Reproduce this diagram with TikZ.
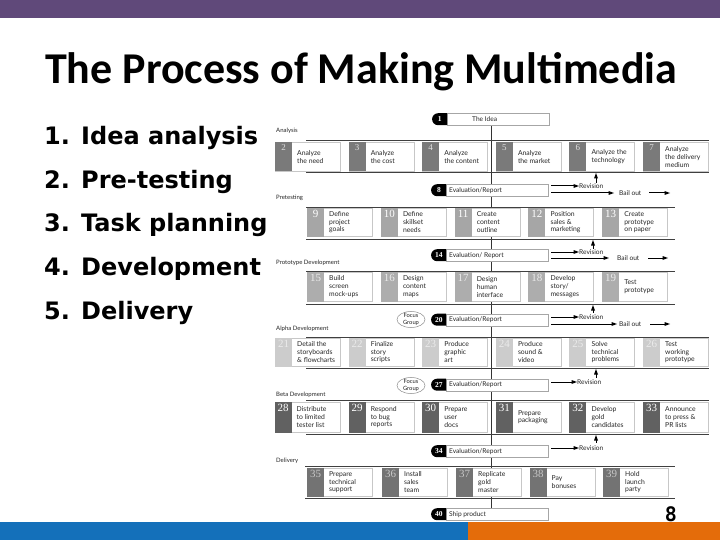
\documentclass[tikz,border=0pt]{standalone}
\usepackage{fontspec}
\setmainfont{Lato}
\newfontfamily\titlefont{Carlito}
\newfontfamily\listfont{DejaVu Sans}
\newfontfamily\numfont{Liberation Serif}
\newfontfamily\pgfont{DejaVu Sans Mono}
\usetikzlibrary{shapes.misc,shapes.geometric}

\definecolor{topbar}{RGB}{96,73,122}
\definecolor{blubar}{RGB}{20,112,186}
\definecolor{orgbar}{RGB}{228,108,10}
\colorlet{cellc}{black!50}
\colorlet{numc}{white}
\newcommand\numsize{11}

\tikzset{
  boxst/.style={draw=black!22, fill=white, line width=0.5pt, inner sep=0pt, minimum width=65pt},
  txtst/.style={font=\fontsize{6.8}{7.8}\selectfont, align=left, inner sep=0pt, text=black!85},
  numst/.style={font=\numfont\fontsize{\numsize}{\numsize}\selectfont, inner sep=0pt},
  rule/.style={draw=black!75, line width=0.8pt},
  cline/.style={draw=black!80, line width=1pt},
  evalst/.style={draw=black!35, fill=white, line width=0.5pt, minimum height=12pt, minimum width=102pt, anchor=north west, inner sep=0pt},
  evtxt/.style={font=\fontsize{6.6}{7}\selectfont, inner sep=0pt, text=black!85},
  tagst/.style={rounded rectangle, rounded rectangle right arc=none, fill=black, minimum height=12pt, minimum width=15pt, inner sep=0pt, text=white, font=\numfont\bfseries\fontsize{7.5}{7.5}\selectfont},
  lbl/.style={font=\fontsize{6.6}{7}\selectfont, inner sep=0pt, text=black!85, anchor=west},
  stagest/.style={font=\fontsize{6}{7}\selectfont, inner sep=0pt, anchor=west, text=black!85},
  aline/.style={draw=black, line width=1pt, line cap=rect},
  fgst/.style={ellipse, draw=black!45, line width=0.5pt, fill=white, minimum width=28pt, minimum height=16pt, inner sep=0pt, align=center, font=\fontsize{5.8}{6.2}\selectfont, text=black!85},
  listst/.style={anchor=base west, inner sep=0pt, font=\listfont\bfseries\fontsize{24}{24}\selectfont}
}

% #1 name, #2 x, #3 y, #4 height, #5 number, #6 text
\newcommand\mmbox[6]{%
  \node[boxst, minimum height=#4pt, anchor=north west] (#1) at (#2,#3) {};
  \fill[cellc] (#1.north west) rectangle ([xshift=17pt]#1.south west);
  \node[numst, text=numc, anchor=north] at ([xshift=8.5pt,yshift=-2pt]#1.north west) {#5};
  \node[txtst, anchor=west] at ([xshift=22pt]#1.west) {#6};
}
% #1 name, #2 x of tag, #3 y top, #4 number, #5 text, #6 text offset
\newcommand\evalbox[6]{%
  \node[evalst] (#1) at ({#2+15},#3) {};
  \node[tagst, anchor=north east] (#1t) at ([xshift=0.3pt]#1.north west) {#4};
  \node[evtxt, anchor=west] (#1x) at ([xshift=#6pt]#1.west) {#5};
}
% horizontal arrow to the right: #1 start, #2 end (tip)
\newcommand\harr[2]{%
  \draw[aline] (#1) -- ([xshift=-4pt]#2);
  \fill[black] (#2) -- ([xshift=-5.5pt,yshift=2pt]#2) -- ([xshift=-5.5pt,yshift=-2pt]#2) -- cycle;
}
% vertical arrow upwards: #1 start (below), #2 end (tip)
\newcommand\varr[2]{%
  \draw[aline] (#1) -- ([yshift=-4pt]#2);
  \fill[black] (#2) -- ([xshift=2pt,yshift=-5.5pt]#2) -- ([xshift=-2pt,yshift=-5.5pt]#2) -- cycle;
}

\begin{document}
\begin{tikzpicture}[x=1pt,y=-1pt]
\useasboundingbox (0,0) rectangle (720,540);
\fill[white] (0,0) rectangle (720,540);

% bars
\fill[topbar] (0,0) rectangle (720,18);
\fill[blubar] (0,522) rectangle (468,540);
\fill[orgbar] (468,522) rectangle (720,540);

% title
\node[anchor=base west, inner sep=0pt, font=\titlefont\bfseries\fontsize{44}{44}\selectfont] (title) at (45,84) {The Process of Making Multimedia};

% list
\node[listst] (l1) at (44,145) {1. Idea analysis};
\node[listst] (l2) at (44,189) {2. Pre-testing};
\node[listst] (l3) at (44,232) {3. Task planning};
\node[listst] (l4) at (44,275) {4. Development};
\node[listst] (l5) at (44,319) {5. Delivery};

% page number
\node[anchor=base, inner sep=0pt, font=\pgfont\bfseries\fontsize{20}{20}\selectfont] (pg) at (671,521) {8};

% ---------- diagram ----------
\coordinate (ctop) at (491,125);
\coordinate (cbot) at (491,508);
\draw[cline] (ctop) -- (cbot);

% stage labels
\node[stagest] (s1) at (276,131) {Analysis};
\node[stagest] (s2) at (276,198) {Pretesting};
\node[stagest] (s3) at (276,263) {Prototype Development};
\node[stagest] (s4) at (276,329) {Alpha Development};
\node[stagest] (s5) at (276,395) {Beta Development};
\node[stagest] (s6) at (276,461) {Delivery};

% rules
\draw[rule] (306,140) -- (709,140);
\draw[rule] (306,172) -- (709,172);
\draw[rule] (306,207) -- (675,207);
\draw[rule] (306,239) -- (675,239);
\draw[rule] (306,271) -- (675,271);
\draw[rule] (306,304) -- (675,304);
\draw[rule] (306,337) -- (709,337);
\draw[rule] (306,368) -- (709,368);
\draw[rule] (306,400) -- (709,400);
\draw[rule] (306,434) -- (709,434);
\draw[rule] (305,466) -- (675,466);
\draw[rule] (305,498) -- (675,498);

% eval boxes
\evalbox{e1}{432}{113}{1}{The Idea}{25}
\evalbox{e8}{431}{184}{8}{Evaluation/Report}{3}
\evalbox{e14}{431}{249}{14}{Evaluation/ Report}{3}
\evalbox{e20}{431}{313.5}{20}{Evaluation/Report}{3}
\evalbox{e27}{431}{378.5}{27}{Evaluation/Report}{3}
\evalbox{e34}{431}{445}{34}{Evaluation/Report}{3}
\evalbox{e40}{431}{508}{40}{Ship product}{3}

% row 1
\colorlet{cellc}{black!52}\colorlet{numc}{white!88!black}\renewcommand\numsize{9}
\mmbox{b2}{275}{142}{29}{2}{Analyze\\the need}
\mmbox{b3}{348.6}{142}{29}{3}{Analyze\\the cost}
\mmbox{b4}{422.2}{142}{29}{4}{Analyze\\the content}
\mmbox{b5}{495.8}{142}{29}{5}{Analyze\\the market}
\mmbox{b6}{569.4}{142}{29}{6}{Analyze the\\technology}
\mmbox{b7}{643}{142}{29}{7}{Analyze\\the delivery\\medium}

% row 2
\colorlet{cellc}{black!35}\colorlet{numc}{white}\renewcommand\numsize{11}
\mmbox{b9}{307}{208}{28}{9}{Define\\project\\goals}
\mmbox{b10}{380.8}{208}{28}{10}{Define\\skillset\\needs}
\mmbox{b11}{454.6}{208}{28}{11}{Create\\content\\outline}
\mmbox{b12}{528.4}{208}{28}{12}{Position\\sales \&\\marketing}
\mmbox{b13}{602.2}{208}{28}{13}{Create\\prototype\\on paper}

% row 3
\colorlet{cellc}{black!32}\colorlet{numc}{white!92!black}
\mmbox{b15}{307}{272}{29}{15}{Build\\screen\\mock-ups}
\mmbox{b16}{380.8}{272}{29}{16}{Design\\content\\maps}
\mmbox{b17}{454.6}{272}{29}{17}{Design\\human\\interface}
\mmbox{b18}{528.4}{272}{29}{18}{Develop\\story/\\messages}
\mmbox{b19}{602.2}{272}{29}{19}{Test\\prototype}

% row 4
\colorlet{cellc}{black!20}\colorlet{numc}{black!8}
\mmbox{b21}{275}{338}{28}{21}{Detail the\\storyboards\\\& flowcharts}
\mmbox{b22}{348.6}{338}{28}{22}{Finalize\\story\\scripts}
\mmbox{b23}{422.2}{338}{28}{23}{Produce\\graphic\\art}
\mmbox{b24}{495.8}{338}{28}{24}{Produce\\sound \&\\video}
\mmbox{b25}{569.4}{338}{28}{25}{Solve\\technical\\problems}
\mmbox{b26}{643}{338}{28}{26}{Test\\working\\prototype}

% row 5
\colorlet{cellc}{black!62}\colorlet{numc}{white}
\mmbox{b28}{274.5}{402}{30}{28}{Distribute\\to limited\\tester list}
\mmbox{b29}{348.6}{402}{30}{29}{Respond\\to bug\\reports}
\mmbox{b30}{422.2}{402}{30}{30}{Prepare\\user\\docs}
\mmbox{b31}{495.8}{402}{30}{31}{Prepare\\packaging}
\mmbox{b32}{569.4}{402}{30}{32}{Develop\\gold\\candidates}
\mmbox{b33}{643}{402}{30}{33}{Announce\\to press \&\\PR lists}

% row 6
\colorlet{cellc}{black!55}\colorlet{numc}{black!22}
\mmbox{b35}{307}{468}{28}{35}{Prepare\\technical\\support}
\mmbox{b36}{382}{468}{28}{36}{Install\\sales\\team}
\mmbox{b37}{456}{468}{28}{37}{Replicate\\gold\\master}
\mmbox{b38}{529.5}{468}{28}{38}{Pay\\bonuses}
\mmbox{b39}{603}{468}{28}{39}{Hold\\launch\\party}

% focus groups
\node[fgst] (fg20) at (411,319.5) {Focus\\Group};
\node[fgst] (fg27) at (411,385.5) {Focus\\Group};

% revision / bail out labels
\node[lbl] (r8) at (579,186) {Revision};
\node[lbl] (bo8) at (619,193) {Bail out};
\node[lbl] (r14) at (579,252) {Revision};
\node[lbl] (bo14) at (617,258) {Bail out};
\node[lbl] (r20) at (579,317) {Revision};
\node[lbl] (bo20) at (619,324) {Bail out};
\node[lbl] (r27) at (577,382) {Revision};
\node[lbl] (r34) at (579,448) {Revision};

% end points
\coordinate (h8a) at (551,186);   \coordinate (h8b) at (551,193);
\coordinate (h14a) at (551,252);  \coordinate (h14b) at (551,258);
\coordinate (h20a) at (551,317);  \coordinate (h20b) at (551,324);
\coordinate (h27a) at (551,382);
\coordinate (h34a) at (551,448);
\coordinate (g8) at (614,193);  \coordinate (g14) at (609,258);  \coordinate (g20) at (617,324);
\coordinate (s8) at (649,193);  \coordinate (s14) at (648,258);  \coordinate (s20) at (650,324);
\coordinate (t8) at (670,193);  \coordinate (t14) at (668,258);  \coordinate (t20) at (670,324);
\coordinate (v8a) at (596,183);   \coordinate (v8b) at (596,173);
\coordinate (v14a) at (593,248);  \coordinate (v14b) at (593,240);
\coordinate (v20a) at (593,312);  \coordinate (v20b) at (593,305);
\coordinate (v27a) at (596,377);  \coordinate (v27b) at (596,369);
\coordinate (v34a) at (596,442);  \coordinate (v34b) at (596,435);

% arrows
\harr{h8a}{r8.west}
\harr{h8b}{g8}
\harr{s8}{t8}
\varr{v8a}{v8b}

\harr{h14a}{r14.west}
\harr{h14b}{g14}
\harr{s14}{t14}
\varr{v14a}{v14b}

\harr{h20a}{r20.west}
\harr{h20b}{g20}
\harr{s20}{t20}
\varr{v20a}{v20b}

\harr{h27a}{r27.west}
\varr{v27a}{v27b}

\harr{h34a}{r34.west}
\varr{v34a}{v34b}

\end{tikzpicture}
\end{document}
